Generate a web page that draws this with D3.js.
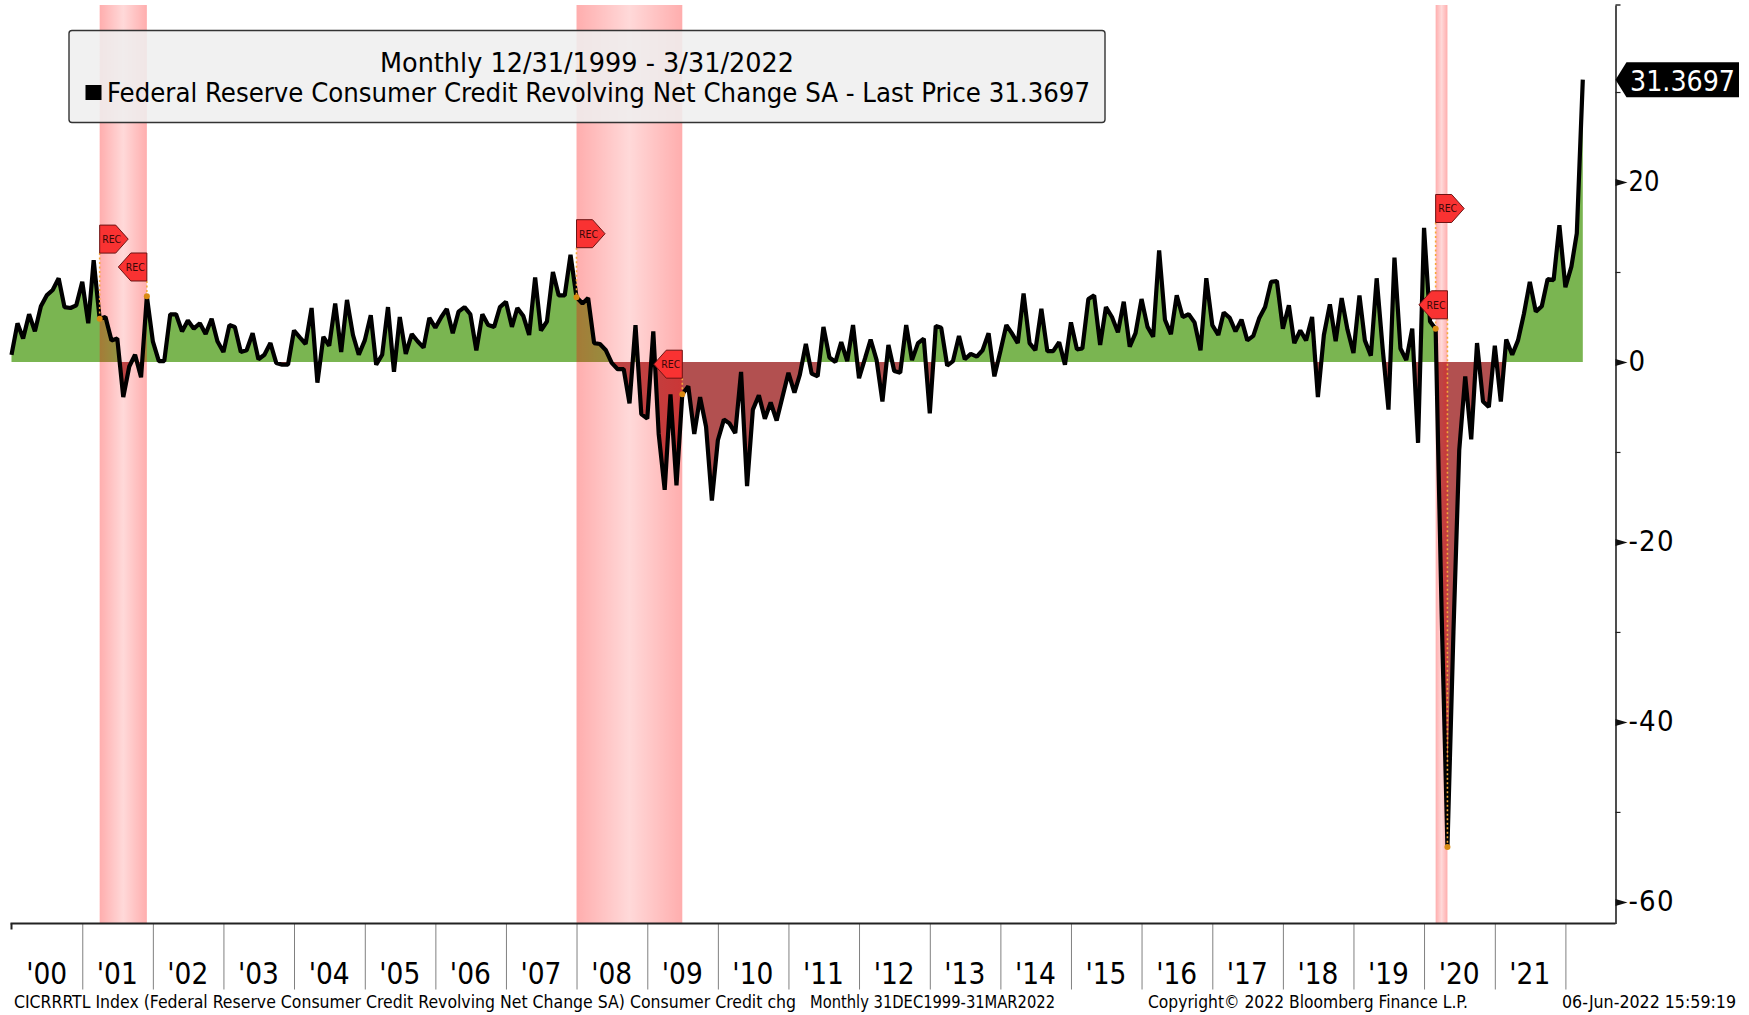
<!DOCTYPE html>
<html>
<head>
<meta charset="utf-8">
<script src="https://cdn.jsdelivr.net/npm/d3@7/dist/d3.min.js"></script>
<style>
html,body{margin:0;padding:0;background:#fff;overflow:hidden}
svg{display:block}
text{font-family:"DejaVu Sans Condensed","DejaVu Sans",sans-serif;font-stretch:condensed;fill:#000}
</style>
</head>
<body>
<svg id="chart" width="1749" height="1015"></svg>
<script>
// Monthly observations, first value = 1999-12-31, last value = 2022-03-31
const seriesName = "Federal Reserve Consumer Credit Revolving Net Change SA";
const firstMonthEnd = "1999-12-31";
const values = [
 0.8,4.3,2.6,5.3,3.4,6.2,7.4,8.0,9.3,6.1,6.0,6.3,8.9,4.3,11.3,4.8,5.0,2.4,2.6,-3.9,
 -0.5,0.8,-1.7,7.3,2.3,0.1,0.1,5.3,5.3,3.4,4.6,3.7,4.3,3.1,4.8,2.3,1.1,4.1,3.9,1.1,
 1.3,3.2,0.3,0.8,2.1,-0.1,-0.3,-0.3,3.5,2.7,2.0,6.0,-2.3,2.8,1.8,6.5,1.1,6.9,3.0,0.8,
 2.4,5.2,-0.3,0.8,6.1,-1.1,5.0,0.9,3.1,2.3,1.6,4.9,3.8,5.0,5.9,3.2,5.6,6.1,5.3,1.3,
 5.3,4.1,3.9,6.1,6.7,3.9,6.0,5.1,3.0,9.4,3.5,4.5,10.0,7.4,7.4,11.9,7.2,6.5,7.1,2.1,
 2.0,1.3,-0.1,-0.8,-0.8,-4.6,4.1,-5.8,-6.3,3.4,-8.0,-14.2,-3.6,-13.7,-3.6,-2.7,-8.0,-3.9,-7.2,-15.4,
 -8.7,-6.4,-6.8,-7.9,-1.1,-13.8,-5.3,-3.7,-6.3,-4.5,-6.5,-3.9,-1.2,-3.4,-1.4,2.0,-1.3,-1.6,3.9,0.5,
 0.0,2.2,0.1,4.1,-1.8,0.4,2.5,0.2,-4.4,1.9,-1.0,-1.2,4.1,0.2,2.1,2.6,-5.7,4.0,3.8,-0.4,
 0.1,2.9,0.3,0.9,0.6,1.3,3.2,-1.6,1.2,4.1,3.2,2.1,7.6,2.1,1.3,5.9,1.2,1.2,2.2,-0.3,
 4.4,1.4,1.5,7.0,7.4,1.9,6.1,5.0,3.3,6.7,1.7,3.2,7.0,3.9,2.8,12.4,4.7,3.1,7.4,5.0,
 5.3,4.4,1.3,9.3,4.1,3.0,5.5,4.9,3.4,4.7,2.4,2.9,4.9,6.1,8.9,9.0,3.7,6.3,2.1,3.5,
 2.4,5.0,-3.9,3.0,6.4,2.3,7.1,3.6,1.0,7.4,2.4,0.7,9.3,1.5,-5.3,11.6,1.5,0.2,3.7,-9.0,
 14.9,4.5,3.7,-28.0,-53.9,-30.0,-9.8,-1.6,-8.6,2.1,-4.4,-5.0,1.8,-4.4,2.5,0.8,2.4,5.4,8.9,5.6,
 6.2,9.2,9.1,15.2,8.3,10.6,14.3,31.3697
];
const lastPriceLabel = "31.3697";
const yearLabels = ["'00","'01","'02","'03","'04","'05","'06","'07","'08","'09","'10","'11","'12","'13","'14","'15","'16","'17","'18","'19","'20","'21"];
const majorYTicks = [20,0,-20,-40,-60];
const minorYTicks = [30,10,-10,-30,-50];
const recessionStarts = ["2001-03-31","2007-12-31","2020-02-29"];
const recessionEnds   = ["2001-11-30","2009-06-30","2020-04-30"];
const flagDates  = ["2001-03-31","2001-11-30","2007-12-31","2009-06-30","2020-02-29","2020-04-30"];
const flagDirs   = ["right","left","right","left","right","left"];
const flagLevels = [12.1,9.0,12.7,-1.8,15.5,4.8];
const titleLine = "Monthly 12/31/1999 - 3/31/2022";
const legendLine = seriesName + " - Last Price 31.3697";
const footerTexts = ["CICRRRTL Index (Federal Reserve Consumer Credit Revolving Net Change SA) Consumer Credit chg","Monthly 31DEC1999-31MAR2022","Copyright\u00A9 2022 Bloomberg Finance L.P.","06-Jun-2022 15:59:19"];

// Layout
const plot = {left:11.5, lastX:1582.8, axisX:1615.5, top:5, bottom:923.5};
const svg = d3.select("#chart");
const parseEnd = s => d3.utcDay.offset(d3.utcParse("%Y-%m-%d")(s), 1);
const t0 = parseEnd(firstMonthEnd);
const dates = values.map((_, i) => d3.utcMonth.offset(t0, i));
const x = d3.scaleUtc().domain([dates[0], dates[dates.length-1]]).range([plot.left, plot.lastX]);
const y = d3.scaleLinear().domain([39.67,-62.4]).range([plot.top, plot.bottom]);
const rows = dates.map((d,i)=>({d, v:values[i], i}));
const idxOf = s => d3.bisectLeft(dates, parseEnd(s));

// Gradient + clips
const defs = svg.append("defs");
const grad = defs.append("linearGradient").attr("id","band").attr("x1",0).attr("x2",1).attr("y1",0).attr("y2",0);
[[0,.32],[.5,.15],[1,.32]].forEach(([o,a])=>grad.append("stop").attr("offset",o).attr("stop-color","#ff0000").attr("stop-opacity",a));
defs.append("clipPath").attr("id","above").append("rect").attr("x",0).attr("y",0).attr("width",1749).attr("height",y(0));
defs.append("clipPath").attr("id","below").append("rect").attr("x",0).attr("y",y(0)).attr("width",1749).attr("height",1015-y(0));

// Area fills
const area = d3.area().x(r=>x(r.d)).y0(y(0)).y1(r=>y(r.v));
svg.append("path").attr("d",area(rows)).attr("fill","#7ab551").attr("clip-path","url(#above)");
svg.append("path").attr("d",area(rows)).attr("fill","#b25050").attr("clip-path","url(#below)");

// Recession bands
svg.append("g").selectAll("rect").data(recessionStarts).join("rect")
  .attr("x",s=>x(parseEnd(s)))
  .attr("width",(s,i)=>x(parseEnd(recessionEnds[i]))-x(parseEnd(s)))
  .attr("y",plot.top).attr("height",plot.bottom-plot.top)
  .attr("fill","url(#band)");

// Series line
const line = d3.line().x(r=>x(r.d)).y(r=>y(r.v));
svg.append("path").attr("d",line(rows)).attr("fill","none").attr("stroke","#000").attr("stroke-width",4.2).attr("stroke-linejoin","bevel");

// X axis
const yearTicks = d3.range(1,yearLabels.length+1).map(k=>d3.utcYear.offset(t0,k));
const xAxisG = svg.append("g").attr("transform",`translate(0,${plot.bottom})`)
  .call(d3.axisBottom(x).tickValues(yearTicks).tickSize(66).tickSizeOuter(0).tickFormat(""));
xAxisG.select(".domain").remove();
xAxisG.selectAll(".tick line").attr("stroke","#808080").attr("stroke-width",1);
svg.append("line").attr("x1",plot.left-1).attr("x2",plot.axisX).attr("y1",plot.bottom).attr("y2",plot.bottom).attr("stroke","#222").attr("stroke-width",2);
svg.append("line").attr("x1",plot.left).attr("x2",plot.left).attr("y1",plot.bottom).attr("y2",plot.bottom+6).attr("stroke","#222").attr("stroke-width",2);
svg.append("g").selectAll("text").data(yearLabels).join("text")
  .attr("x",(s,i)=>x(d3.utcMonth.offset(t0,12*i+6))-20.5)
  .attr("y",984).attr("font-size",31).attr("textLength",41).attr("lengthAdjust","spacingAndGlyphs")
  .text(s=>s);

// Y axis
const minorAxis = d3.axisRight(y).tickValues(minorYTicks).tickSize(5).tickSizeOuter(0).tickFormat("");
const yG = svg.append("g").attr("transform",`translate(${plot.axisX},0)`).call(minorAxis);
yG.select(".domain").attr("stroke","#222").attr("stroke-width",1.6);
yG.selectAll(".tick line").attr("stroke","#222").attr("stroke-width",1.2);
svg.append("line").attr("x1",plot.axisX).attr("x2",plot.axisX+5).attr("y1",plot.top).attr("y2",plot.top).attr("stroke","#222").attr("stroke-width",1.4);
const majorG = svg.append("g").attr("transform",`translate(${plot.axisX},0)`)
  .call(d3.axisRight(y).tickValues(majorYTicks).tickSize(0).tickSizeOuter(0).tickPadding(13));
majorG.select(".domain").remove();
majorG.selectAll(".tick text").attr("font-size",29).style("font-family",'"DejaVu Sans Condensed","DejaVu Sans",sans-serif').attr("dy","0.3em")
  .each(function(d){
    const t = d3.select(this).text(d<0?"-"+Math.abs(d):d);
    if(d>0) t.attr("textLength",31).attr("lengthAdjust","spacingAndGlyphs");
    if(d<0) t.attr("textLength",45).attr("lengthAdjust","spacing");
  });
majorG.selectAll(".tick").append("path").attr("d","M0,-3.5L12,0L0,3.5Z").attr("fill","#111");

// Last price tag
const lastY = y(values[values.length-1]);
svg.append("path").attr("d",d3.line()([[plot.axisX,lastY],[plot.axisX+11,lastY-17.5],[1739,lastY-17.5],[1739,lastY+17.5],[plot.axisX+11,lastY+17.5]])+"Z").attr("fill","#000");
svg.append("text").attr("x",1630).attr("y",lastY+11).attr("font-size",29).style("fill","#fff").attr("textLength",105).attr("lengthAdjust","spacingAndGlyphs").text(lastPriceLabel);

// Recession flags
const flags = flagDates.map((s,i)=>({s,dir:flagDirs[i],lvl:flagLevels[i],row:rows[idxOf(s)]}));
const fg = svg.append("g");
fg.selectAll("line").data(flags).join("line")
  .attr("x1",f=>x(f.row.d)).attr("x2",f=>x(f.row.d))
  .attr("y1",f=>y(f.lvl)).attr("y2",f=>y(f.row.v))
  .attr("stroke","#f5a83a").attr("stroke-width",1.6).attr("stroke-dasharray","2,2.5");
fg.selectAll("circle").data(flags).join("circle")
  .attr("cx",f=>x(f.row.d)).attr("cy",f=>y(f.row.v)).attr("r",3)
  .attr("fill","#d98a12");
const fl = fg.selectAll("g.flag").data(flags).join("g").attr("class","flag")
  .attr("transform",f=>`translate(${x(f.row.d)},${y(f.lvl)})`);
fl.append("path").attr("d",f=>{
  const s = f.dir==="right"?1:-1;
  return d3.line()([[0,0],[0,-28],[16*s,-28],[28.5*s,-14],[16*s,0]])+"Z";
}).attr("fill","#f93232").attr("stroke","#6b1414").attr("stroke-width",1);
fl.append("text").attr("x",f=>f.dir==="right"?12:-11.5).attr("y",-10).attr("text-anchor","middle")
  .attr("font-size",11).attr("textLength",19).attr("lengthAdjust","spacingAndGlyphs").style("fill","#3a0808").text("REC");

// Legend box
svg.append("rect").attr("x",69).attr("y",30.5).attr("width",1036).attr("height",92).attr("rx",3)
  .attr("fill","#efefef").attr("fill-opacity",.86).attr("stroke","#333").attr("stroke-width",1.4);
svg.append("text").attr("x",380).attr("y",71.5).attr("font-size",26).attr("textLength",414).attr("lengthAdjust","spacingAndGlyphs").text(titleLine);
svg.append("rect").attr("x",85.5).attr("y",85).attr("width",16).attr("height",15).attr("fill","#000");
svg.append("text").attr("x",107).attr("y",102).attr("font-size",26).attr("textLength",983).attr("lengthAdjust","spacingAndGlyphs").text(legendLine);

// Footer
const footerX = [14,810,1148,1562], footerW = [782,245,320,174];
svg.append("g").selectAll("text").data(footerTexts).join("text")
  .attr("x",(s,i)=>footerX[i]).attr("y",1008).attr("font-size",17)
  .attr("textLength",(s,i)=>footerW[i]).attr("lengthAdjust","spacingAndGlyphs").text(s=>s);
</script>
</body>
</html>
